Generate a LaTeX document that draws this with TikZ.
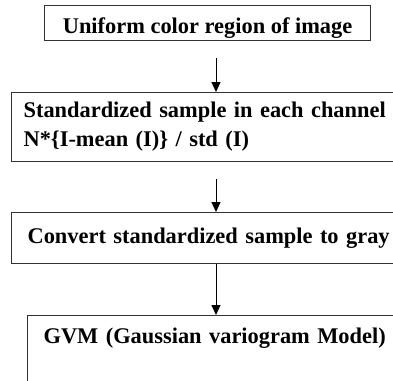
\documentclass[tikz,border=0pt]{standalone}
\usepackage{fontspec}
\setmainfont{Liberation Serif}
\usetikzlibrary{calc, positioning, arrows.meta}

\tikzset{
  stagebox/.style={draw=black!80, line width=1.2pt, anchor=north west,
    inner ysep=0pt, font=\bfseries\fontsize{22.4}{29}\selectfont},
  flow/.style={-{Triangle[width=9pt,length=10pt]}, line width=1pt}
}

\begin{document}
\begin{tikzpicture}[x=1pt, y=-1pt]
  \useasboundingbox (0,0) rectangle (393,380);
  \clip (0,0) rectangle (393,380);

  % the four stages, top to bottom
  \node[stagebox, minimum width=326pt, inner xsep=0pt,
        text height=28pt, text depth=7pt] (uniform) at (44,5)
        {Uniform color region of image};
  \node[stagebox, text width=420pt, inner xsep=12pt, align=left,
        minimum height=69pt] (standard) at (11,92)
        {Standardized sample in each channel\\ N*\{I-mean (I)\} / std (I)};
  \node[stagebox, text width=420pt, inner xsep=16pt, align=left,
        text height=31pt, text depth=20pt] (convert) at (11,212)
        {Convert standardized sample to gray};
  \node[stagebox, text width=420pt, inner xsep=16pt, align=left,
        text height=28pt, text depth=60pt] (gvm) at (27,315)
        {GVM (Gaussian variogram Model)};

  % arrows run down one common column
  \coordinate (ax) at (216,0);
  \draw[flow, shorten <=17pt] (uniform.south -| ax) -- (standard.north -| ax);
  \draw[flow, shorten <=17pt] (standard.south -| ax) -- (convert.north -| ax);
  \draw[flow] (convert.south -| ax) -- (gvm.north -| ax);
\end{tikzpicture}
\end{document}
